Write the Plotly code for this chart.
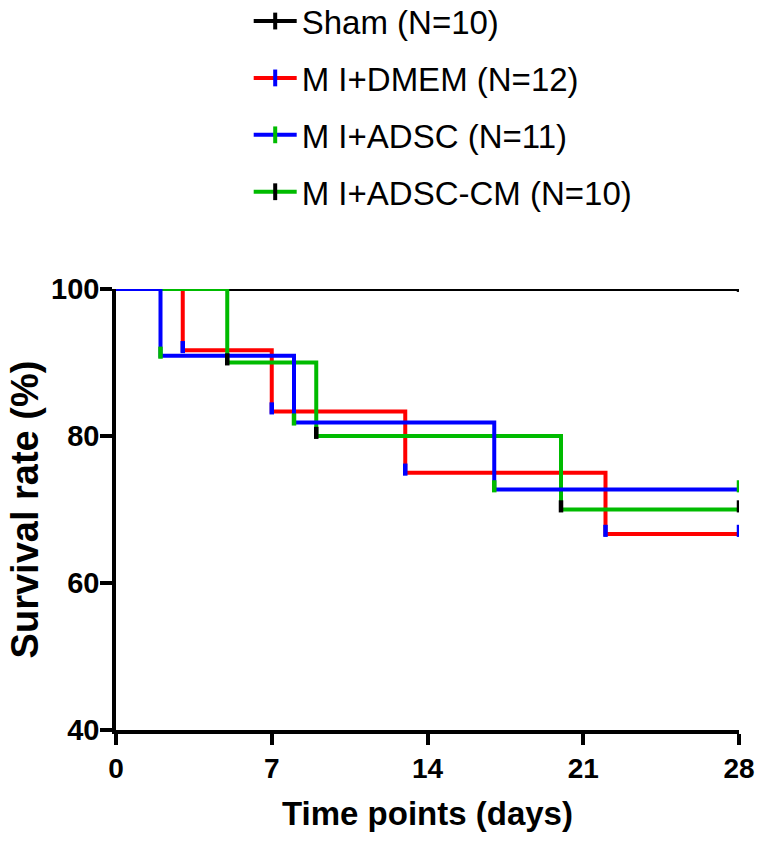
import plotly.graph_objects as go

# ---- data ----
group_names = ["Sham (N=10)", "M I+DMEM (N=12)", "M I+ADSC (N=11)", "M I+ADSC-CM (N=10)"]

sham_t = [0, 28]
sham_s = [100, 100]
sham_tick_t = [28]
sham_tick_s = [100]

dmem_t = [0, 3, 7, 13, 22, 28]
dmem_s = [100, 91.67, 83.33, 75.0, 66.67, 66.67]
dmem_tick_t = [3, 7, 13, 22, 28]
dmem_tick_s = [91.67, 83.33, 75.0, 66.67, 66.67]

adsc_t = [0, 2, 8, 17, 28]
adsc_s = [100, 90.91, 81.82, 72.73, 72.73]
adsc_tick_t = [2, 8, 17, 28]
adsc_tick_s = [90.91, 81.82, 72.73, 72.73]

cm_t = [0, 5, 9, 20, 28]
cm_s = [100, 90.0, 80.0, 70.0, 70.0]
cm_tick_t = [5, 9, 20, 28]
cm_tick_s = [90.0, 80.0, 70.0, 70.0]

x_ticks = [0, 7, 14, 21, 28]
y_ticks = [40, 60, 80, 100]

line_colors = ["#000000", "#ff0000", "#0000ff", "#00bb00"]
tick_colors = ["#000000", "#0000ff", "#00bb00", "#000000"]

FONT = "Liberation Sans, Arial, sans-serif"

series = [
    (sham_t, sham_s, sham_tick_t, sham_tick_s),
    (dmem_t, dmem_s, dmem_tick_t, dmem_tick_s),
    (adsc_t, adsc_s, adsc_tick_t, adsc_tick_s),
    (cm_t, cm_s, cm_tick_t, cm_tick_s),
]

fig = go.Figure()

# step lines
draw_order = [0, 1, 3, 2]
for i in draw_order:
    t, s, tt, ts = series[i]
    fig.add_trace(go.Scatter(
        x=t, y=s, mode="lines", line=dict(shape="hv", color=line_colors[i], width=4),
        showlegend=False, cliponaxis=False, hoverinfo="skip"))

# event / censor ticks (drawn as asymmetric error bars)
for i in draw_order:
    t, s, tt, ts = series[i]
    n = len(tt)
    fig.add_trace(go.Scatter(
        x=tt, y=ts, mode="markers",
        marker=dict(size=1, color=tick_colors[i], opacity=0),
        error_y=dict(type="data", symmetric=False, array=[1.25] * n, arrayminus=[0.4] * n,
                     width=0, thickness=4.5, color=tick_colors[i]),
        showlegend=False, cliponaxis=False, hoverinfo="skip"))

# legend entries
for i, name in enumerate(group_names):
    fig.add_trace(go.Scatter(
        x=[None], y=[None], mode="lines+markers", name=name,
        legendgroup=f"g{i}",
        line=dict(color=line_colors[i], width=4),
        marker=dict(symbol="line-ns", size=12, color=tick_colors[i],
                    line=dict(color=tick_colors[i], width=4))))

axis_common = dict(
    showline=True, linecolor="black", linewidth=3.5,
    ticks="outside", tickcolor="black", tickwidth=3.5,
    showgrid=False, zeroline=False,
)

fig.update_layout(
    width=764, height=843,
    margin=dict(l=116, r=25, t=289, b=113, autoexpand=False),
    paper_bgcolor="white", plot_bgcolor="white",
    font=dict(family=FONT, color="black"),
    showlegend=True,
    legend=dict(
        x=0.213, y=1.671, xanchor="left", yanchor="top",
        font=dict(family=FONT, size=33, color="black"),
        tracegroupgap=11, itemwidth=43, bgcolor="rgba(0,0,0,0)",
    ),
    xaxis=dict(
        range=[0, 28], tickvals=x_ticks, ticktext=[str(v) for v in x_ticks],
        ticklen=11, automargin=False,
        tickfont=dict(family=FONT, size=28, color="black", weight="bold"),
        title=dict(text="Time points (days)", font=dict(family=FONT, size=33, weight="bold"),
                   standoff=20),
        **axis_common),
    yaxis=dict(
        range=[40, 100], tickvals=y_ticks, ticktext=[str(v) for v in y_ticks],
        ticklen=12, ticklabelstandoff=-5, automargin=True,
        tickfont=dict(family=FONT, size=29, color="black", weight="bold"),
        title=dict(text="Survival rate (%)", font=dict(family=FONT, size=38, weight="bold"),
                   standoff=2),
        **axis_common),
)

fig.write_html("out.html", config={"displayModeBar": False},
               post_script="document.body.style.margin='0';document.body.style.padding='0';")
